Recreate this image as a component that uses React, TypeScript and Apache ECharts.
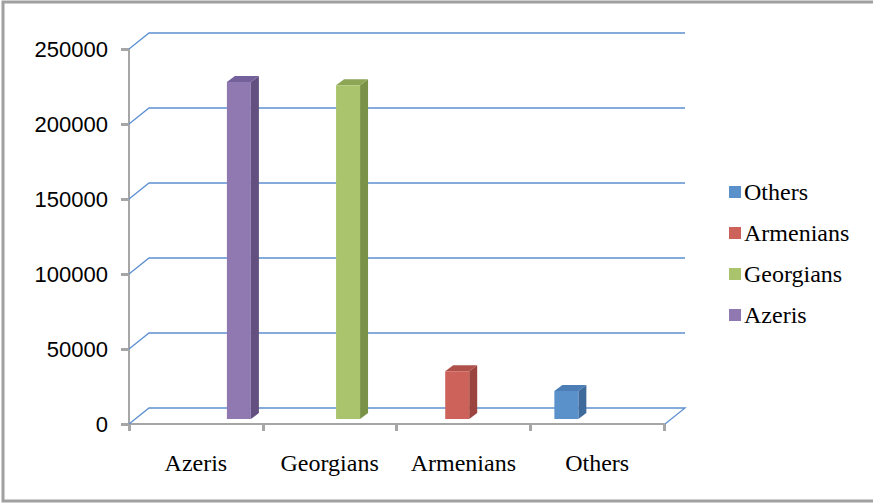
import React, { useEffect, useRef } from "react";
import * as echarts from "echarts";

// Population by group
const categories = ["Azeris", "Georgians", "Armenians", "Others"];
const values = [224606, 222450, 31777, 18697];
const legendOrder = ["Others", "Armenians", "Georgians", "Azeris"];
const yTicks = [0, 50000, 100000, 150000, 200000, 250000];

// face colours: front, side, top
const faceColors: Record<string, [string, string, string]> = {
  Azeris: ["#9079B1", "#634F80", "#74609A"],
  Georgians: ["#A9C46C", "#7A9248", "#8CA656"],
  Armenians: ["#CD625A", "#9B433E", "#B0504A"],
  Others: ["#5B91CB", "#3F6A9C", "#4C7DB5"],
};

// pseudo-3D depth offsets
const WALL_DX = 20;
const WALL_DY = -16;
const BAR_DY = -5;
const BAR_W = 24;
const SIDE_DX = 8;
const SIDE_DY = -6;

const serifText = {
  fontFamily: "Liberation Serif",
  fontSize: 24,
  color: "#000",
};

// legend block placement
const LEGEND_X = 729;
const LEGEND_Y = 192;
const LEGEND_STEP = 41;

export default function App() {
  const ref = useRef<HTMLDivElement>(null);

  useEffect(() => {
    if (!ref.current) return;
    const chart = echarts.init(ref.current, null, { renderer: "svg" });

    const gridSeries = {
      type: "custom",
      name: "walls",
      silent: true,
      z: 1,
      data: yTicks.map((t) => [0, t]),
      renderItem: (params: any, api: any) => {
        const cs = params.coordSys;
        const y = api.coord([0, api.value(1)])[1];
        const x0 = cs.x;
        const x1 = cs.x + cs.width;
        const pts: number[][] = [
          [x0, y],
          [x0 + WALL_DX, y + WALL_DY],
          [x1 + WALL_DX + 1, y + WALL_DY],
        ];
        if (api.value(1) === 0) pts.push([x1 + 1, y]);
        return {
          type: "polyline",
          shape: { points: pts },
          style: { stroke: "#5D90D2", lineWidth: 1.3, fill: null },
        };
      },
    };

    const barSeries = categories.map((name, idx) => ({
      type: "custom",
      name,
      z: 3,
      itemStyle: { color: faceColors[name][0] },
      data: [[idx, values[idx]]],
      renderItem: (params: any, api: any) => {
        const cat = api.value(0);
        const base = api.coord([cat, 0]);
        const top = api.coord([cat, api.value(1)]);
        const band = api.size([1, 0])[0];
        const left = base[0] + band * 0.232 - (BAR_W + 0.6) * cat;
        const by = base[1] + BAR_DY;
        const ty = top[1] + BAR_DY;
        const [front, side, topC] = faceColors[name];
        return {
          type: "group",
          children: [
            {
              type: "polygon",
              shape: {
                points: [
                  [left + BAR_W, ty],
                  [left + BAR_W + SIDE_DX, ty + SIDE_DY],
                  [left + BAR_W + SIDE_DX, by + SIDE_DY],
                  [left + BAR_W, by],
                ],
              },
              style: { fill: side },
            },
            {
              type: "polygon",
              shape: {
                points: [
                  [left, ty],
                  [left + SIDE_DX, ty + SIDE_DY],
                  [left + BAR_W + SIDE_DX, ty + SIDE_DY],
                  [left + BAR_W, ty],
                ],
              },
              style: { fill: topC },
            },
            {
              type: "rect",
              shape: { x: left, y: ty, width: BAR_W, height: by - ty },
              style: { fill: front },
            },
          ],
        };
      },
    }));

    // legend drawn as swatches + serif labels
    const legendGraphics = legendOrder.flatMap((name, i) => {
      const cy = LEGEND_Y + i * LEGEND_STEP;
      return [
        {
          type: "rect",
          silent: true,
          shape: { x: LEGEND_X, y: cy - 6, width: 12, height: 12 },
          style: { fill: faceColors[name][0] },
        },
        {
          type: "text",
          silent: true,
          x: LEGEND_X + 15,
          y: cy,
          style: {
            text: name,
            fill: "#000",
            fontFamily: "Liberation Serif, serif",
            fontSize: 24,
            verticalAlign: "middle",
          },
        },
      ];
    });

    chart.setOption({
      animation: false,
      backgroundColor: "#ffffff",
      grid: { left: 129, right: 209, top: 49, bottom: 80 },
      xAxis: {
        type: "category",
        data: categories,
        boundaryGap: true,
        axisLine: { show: true, lineStyle: { color: "#A6A6A6", width: 2 } },
        axisTick: { show: true, length: 7, lineStyle: { color: "#A6A6A6", width: 3 } },
        axisLabel: {
          interval: 0,
          ...serifText,
          margin: 27,
        },
        splitLine: { show: false },
      },
      yAxis: {
        type: "value",
        min: 0,
        max: 250000,
        interval: 50000,
        axisLine: { show: true, lineStyle: { color: "#A6A6A6", width: 2 } },
        axisTick: { show: true, length: 8, lineStyle: { color: "#A6A6A6", width: 3 } },
        axisLabel: {
          formatter: (v: number) => String(v),
          fontFamily: "Liberation Sans",
          fontSize: 22,
          color: "#000",
          margin: 21,
        },
        splitLine: { show: false },
      },
      graphic: [
        {
          type: "rect",
          shape: { x: 3, y: 2, width: 900, height: 499 },
          style: { fill: null, stroke: "#A0A0A0", lineWidth: 3 },
          silent: true,
        },
        ...legendGraphics,
      ],
      series: [gridSeries, ...barSeries],
    });

    return () => chart.dispose();
  }, []);

  return (
    <div
      ref={ref}
      style={{ position: "fixed", left: 0, top: 0, width: 873, height: 504 }}
    />
  );
}
